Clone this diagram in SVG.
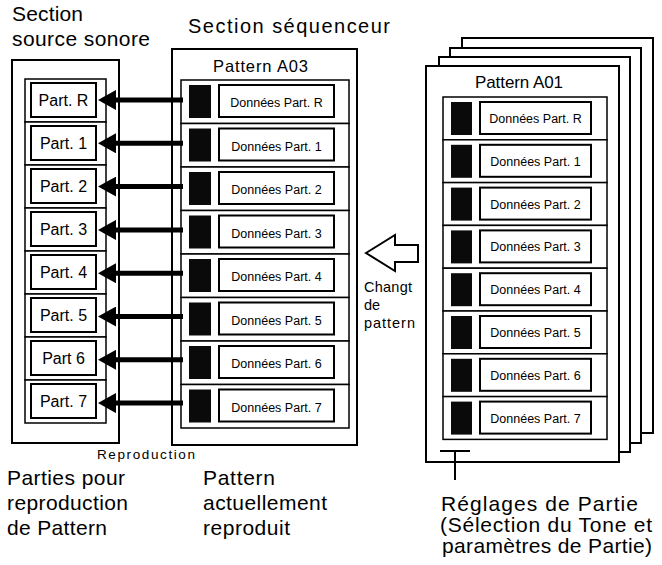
<svg xmlns="http://www.w3.org/2000/svg" width="662" height="565" viewBox="0 0 662 565">
<style>
  text { font-family: "Liberation Sans", Arial, sans-serif; fill: #000; }
  .box { fill: #fff; stroke: #000; stroke-width: 2; }
  .row { fill: #fff; stroke: #000; stroke-width: 1.5; }
  .tb { fill: #fff; stroke: #000; stroke-width: 2; }
  .dark { fill: #0a0a0a; }
  .lbl { font-size: 16px; text-anchor: middle; }
  .dat { font-size: 12.5px; text-anchor: middle; }
  .cap { font-size: 21px; }
  .arr { stroke: #000; stroke-width: 5; fill: none; marker-end: url(#ah); }
  .ln { stroke: #000; stroke-width: 2; fill: none; }
</style>
<defs>
  <marker id="ah" markerUnits="userSpaceOnUse" markerWidth="18" markerHeight="20" viewBox="0 0 18 20" refX="0" refY="10" orient="auto">
    <path d="M0,0 L18,10 L0,20 z" fill="#000"/>
  </marker>
</defs>
<rect width="662" height="565" fill="#fff"/>

<!-- Titles -->
<text class="cap" x="12" y="21" textLength="71" lengthAdjust="spacing">Section</text>
<text class="cap" x="12" y="46" textLength="138" lengthAdjust="spacing">source sonore</text>
<text x="188" y="33" font-size="20" textLength="202" lengthAdjust="spacing">Section séquenceur</text>

<!-- Left section: source sonore -->
<g id="source-section">
  <rect class="box" x="12" y="60" width="107" height="383"/>
  <g id="part-R"><rect class="row" x="25" y="79" width="81" height="43"/><rect class="tb" x="31" y="83" width="65" height="34"/><text class="lbl" x="63.5" y="106">Part. R</text></g>
  <g id="part-1"><rect class="row" x="25" y="122" width="81" height="43"/><rect class="tb" x="31" y="126" width="65" height="34"/><text class="lbl" x="63.5" y="149">Part. 1</text></g>
  <g id="part-2"><rect class="row" x="25" y="165" width="81" height="43"/><rect class="tb" x="31" y="169" width="65" height="34"/><text class="lbl" x="63.5" y="192">Part. 2</text></g>
  <g id="part-3"><rect class="row" x="25" y="208" width="81" height="43"/><rect class="tb" x="31" y="212" width="65" height="34"/><text class="lbl" x="63.5" y="235">Part. 3</text></g>
  <g id="part-4"><rect class="row" x="25" y="251" width="81" height="43"/><rect class="tb" x="31" y="255" width="65" height="34"/><text class="lbl" x="63.5" y="278">Part. 4</text></g>
  <g id="part-5"><rect class="row" x="25" y="294" width="81" height="43"/><rect class="tb" x="31" y="298" width="65" height="34"/><text class="lbl" x="63.5" y="321">Part. 5</text></g>
  <g id="part-6"><rect class="row" x="25" y="337" width="81" height="43"/><rect class="tb" x="31" y="341" width="65" height="34"/><text class="lbl" x="63.5" y="364">Part  6</text></g>
  <g id="part-7"><rect class="row" x="25" y="380" width="81" height="43"/><rect class="tb" x="31" y="384" width="65" height="34"/><text class="lbl" x="63.5" y="407">Part. 7</text></g>
</g>

<!-- Middle section: sequencer, Pattern A03 -->
<g id="sequencer-section">
  <rect class="box" x="172" y="49" width="185" height="396"/>
  <text x="213" y="72" font-size="16.5" textLength="95" lengthAdjust="spacing">Pattern A03</text>
  <g id="seq-R"><rect class="row" x="181" y="80" width="168" height="43.5"/><rect class="dark" x="189" y="85" width="22" height="33"/><rect class="tb" x="219" y="85" width="115" height="32"/><text class="dat" x="276.5" y="107">Données Part. R</text></g>
  <g id="seq-1"><rect class="row" x="181" y="123.5" width="168" height="43.5"/><rect class="dark" x="189" y="128.5" width="22" height="33"/><rect class="tb" x="219" y="128.5" width="115" height="32"/><text class="dat" x="276.5" y="150.5">Données Part. 1</text></g>
  <g id="seq-2"><rect class="row" x="181" y="167" width="168" height="43.5"/><rect class="dark" x="189" y="172" width="22" height="33"/><rect class="tb" x="219" y="172" width="115" height="32"/><text class="dat" x="276.5" y="194">Données Part. 2</text></g>
  <g id="seq-3"><rect class="row" x="181" y="210.5" width="168" height="43.5"/><rect class="dark" x="189" y="215.5" width="22" height="33"/><rect class="tb" x="219" y="215.5" width="115" height="32"/><text class="dat" x="276.5" y="237.5">Données Part. 3</text></g>
  <g id="seq-4"><rect class="row" x="181" y="254" width="168" height="43.5"/><rect class="dark" x="189" y="259" width="22" height="33"/><rect class="tb" x="219" y="259" width="115" height="32"/><text class="dat" x="276.5" y="281">Données Part. 4</text></g>
  <g id="seq-5"><rect class="row" x="181" y="297.5" width="168" height="43.5"/><rect class="dark" x="189" y="302.5" width="22" height="33"/><rect class="tb" x="219" y="302.5" width="115" height="32"/><text class="dat" x="276.5" y="324.5">Données Part. 5</text></g>
  <g id="seq-6"><rect class="row" x="181" y="341" width="168" height="43.5"/><rect class="dark" x="189" y="346" width="22" height="33"/><rect class="tb" x="219" y="346" width="115" height="32"/><text class="dat" x="276.5" y="368">Données Part. 6</text></g>
  <g id="seq-7"><rect class="row" x="181" y="384.5" width="168" height="43.5"/><rect class="dark" x="189" y="389.5" width="22" height="33"/><rect class="tb" x="219" y="389.5" width="115" height="32"/><text class="dat" x="276.5" y="411.5">Données Part. 7</text></g>
</g>

<!-- Right: stack of patterns -->
<g id="pattern-stack">
  <rect class="box" x="462" y="38" width="191" height="395"/>
  <rect class="box" x="450" y="48" width="191" height="395"/>
  <rect class="box" x="439" y="57" width="191" height="395"/>
  <rect class="box" x="426" y="66" width="193" height="396"/>
  <text x="475" y="88" font-size="17" textLength="88" lengthAdjust="spacing">Pattern A01</text>
  <g id="pat-R"><rect class="row" x="443" y="97" width="164" height="42.8"/><rect class="dark" x="451" y="102" width="21" height="33"/><rect class="tb" x="480" y="102" width="111" height="32"/><text class="dat" x="535.5" y="123">Données Part. R</text></g>
  <g id="pat-1"><rect class="row" x="443" y="139.8" width="164" height="42.8"/><rect class="dark" x="451" y="144.8" width="21" height="33"/><rect class="tb" x="480" y="144.8" width="111" height="32"/><text class="dat" x="535.5" y="165.8">Données Part. 1</text></g>
  <g id="pat-2"><rect class="row" x="443" y="182.6" width="164" height="42.8"/><rect class="dark" x="451" y="187.6" width="21" height="33"/><rect class="tb" x="480" y="187.6" width="111" height="32"/><text class="dat" x="535.5" y="208.6">Données Part. 2</text></g>
  <g id="pat-3"><rect class="row" x="443" y="225.4" width="164" height="42.8"/><rect class="dark" x="451" y="230.4" width="21" height="33"/><rect class="tb" x="480" y="230.4" width="111" height="32"/><text class="dat" x="535.5" y="251.4">Données Part. 3</text></g>
  <g id="pat-4"><rect class="row" x="443" y="268.2" width="164" height="42.8"/><rect class="dark" x="451" y="273.2" width="21" height="33"/><rect class="tb" x="480" y="273.2" width="111" height="32"/><text class="dat" x="535.5" y="294.2">Données Part. 4</text></g>
  <g id="pat-5"><rect class="row" x="443" y="311" width="164" height="42.8"/><rect class="dark" x="451" y="316" width="21" height="33"/><rect class="tb" x="480" y="316" width="111" height="32"/><text class="dat" x="535.5" y="337">Données Part. 5</text></g>
  <g id="pat-6"><rect class="row" x="443" y="353.8" width="164" height="42.8"/><rect class="dark" x="451" y="358.8" width="21" height="33"/><rect class="tb" x="480" y="358.8" width="111" height="32"/><text class="dat" x="535.5" y="379.8">Données Part. 6</text></g>
  <g id="pat-7"><rect class="row" x="443" y="396.6" width="164" height="42.8"/><rect class="dark" x="451" y="401.6" width="21" height="33"/><rect class="tb" x="480" y="401.6" width="111" height="32"/><text class="dat" x="535.5" y="422.6">Données Part. 7</text></g>
</g>

<!-- Connectors -->
<g id="connectors">
  <line class="arr" x1="183" y1="100" x2="116" y2="100"/>
  <line class="arr" x1="183" y1="143.3" x2="116" y2="143.3"/>
  <line class="arr" x1="183" y1="186.6" x2="116" y2="186.6"/>
  <line class="arr" x1="183" y1="229.9" x2="116" y2="229.9"/>
  <line class="arr" x1="183" y1="273.2" x2="116" y2="273.2"/>
  <line class="arr" x1="183" y1="316.5" x2="116" y2="316.5"/>
  <line class="arr" x1="183" y1="359.8" x2="116" y2="359.8"/>
  <line class="arr" x1="183" y1="403.1" x2="116" y2="403.1"/>
  <polygon points="366,253 395,235 395,245 418,245 418,262 395,262 395,271" fill="#fff" stroke="#000" stroke-width="2" stroke-linejoin="miter"/>
  <path class="ln" d="M440,451 H470 M455,451 V480"/>
</g>

<!-- Labels -->
<text x="364" y="292" font-size="14.5" textLength="48" lengthAdjust="spacing">Changt</text>
<text x="364" y="310" font-size="14.5">de</text>
<text x="364" y="328" font-size="14.5" textLength="51" lengthAdjust="spacing">pattern</text>

<text x="97" y="459" font-size="13.5" textLength="98" lengthAdjust="spacing">Reproduction</text>

<text class="cap" x="7" y="485" textLength="118" lengthAdjust="spacing">Parties pour</text>
<text class="cap" x="7" y="510" textLength="121" lengthAdjust="spacing">reproduction</text>
<text class="cap" x="7" y="535" textLength="100" lengthAdjust="spacing">de Pattern</text>

<text class="cap" x="203" y="485" textLength="72" lengthAdjust="spacing">Pattern</text>
<text class="cap" x="203" y="510" textLength="124" lengthAdjust="spacing">actuellement</text>
<text class="cap" x="203" y="535" textLength="87" lengthAdjust="spacing">reproduit</text>

<text class="cap" x="441" y="511" textLength="197" lengthAdjust="spacing">Réglages de Partie</text>
<text class="cap" x="440" y="532" textLength="212" lengthAdjust="spacing">(Sélection du Tone et</text>
<text class="cap" x="442" y="553" textLength="210" lengthAdjust="spacing">paramètres de Partie)</text>
</svg>
